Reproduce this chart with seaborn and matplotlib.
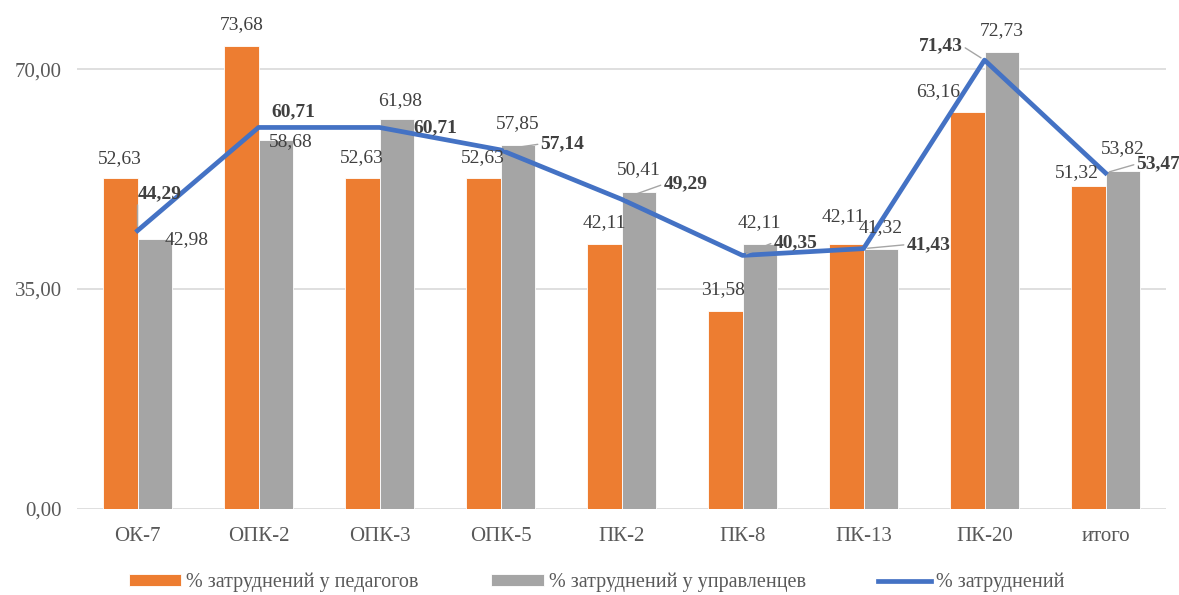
import numpy as np
import pandas as pd
import matplotlib
matplotlib.use('Agg')
import matplotlib.pyplot as plt
import seaborn as sb

# data
categories = ['ОК-7', 'ОПК-2', 'ОПК-3', 'ОПК-5', 'ПК-2', 'ПК-8', 'ПК-13', 'ПК-20', 'итого']
teachers = [52.63, 73.68, 52.63, 52.63, 42.11, 31.58, 42.11, 63.16, 51.32]
managers = [42.98, 58.68, 61.98, 57.85, 50.41, 42.11, 41.32, 72.73, 53.82]
total = [44.29, 60.71, 60.71, 57.14, 49.29, 40.35, 41.43, 71.43, 53.47]

name_teachers = '% затруднений у педагогов'
name_managers = '% затруднений у управленцев'
name_total = '% затруднений'

# label offsets in pixels (dx, dy) relative to bar top / line point
off_teachers = [(0, 20), (0, 21), (0, 21), (0, 21), (0, 22), (-2, 21), (-3, 28), (-29, 20), (-11, 14)]
off_managers = [(32, -1), (15, -1), (3, 19), (0, 22), (0, 23), (0, 22), (0, 22), (0, 21), (0, 22)]
off_total = [(22, 37), (35, 16), (56, 0), (62, 6), (64, 15), (53, 13), (65, 4), (-44, 14), (53, 9)]
lead_total = [True, False, False, True, True, True, True, True, True]

orange = '#ED7D31'
grey = '#A5A5A5'
blue = '#4472C4'
text_col = '#404040'

plt.rcParams['font.family'] = ['Liberation Serif', 'DejaVu Serif']

df = pd.DataFrame({'cat': categories * 2,
                   'val': teachers + managers,
                   'series': [name_teachers] * len(categories) + [name_managers] * len(categories)})

fig = plt.figure(figsize=(11.79, 5.95), dpi=100)
ax = fig.add_axes([77 / 1179, 1 - 509 / 595, 1089 / 1179, 499 / 595])

sb.barplot(data=df, x='cat', y='val', hue='series', palette=[orange, grey], saturation=1,
           width=0.57, linewidth=0.6, edgecolor='white', ax=ax, zorder=2)
x = np.arange(len(categories))
sb.lineplot(x=x, y=total, color=blue, linewidth=3.4, sort=False, ax=ax,
            label=name_total, zorder=3)

ax.set_xlim(-0.5, len(categories) - 0.5)
ax.set_ylim(0, 79.4)
ax.set_yticks([0, 35, 70])
ax.set_yticklabels(['0,00', '35,00', '70,00'])
ax.set_xticks(x)
ax.set_xticklabels(categories)
ax.tick_params(axis='both', length=0, labelsize=15, colors='#595959')
ax.tick_params(axis='y', pad=11)
ax.tick_params(axis='x', pad=13)
ax.grid(axis='y', color='#D9D9D9', linewidth=1.2, zorder=0)
ax.set_axisbelow(True)
for s in ax.spines.values():
    s.set_visible(False)
ax.set_xlabel('')
ax.set_ylabel('')

def fmt(v):
    return '{:.2f}'.format(v).replace('.', ',')

bw = 0.285
for i in range(len(categories)):
    ax.annotate(fmt(teachers[i]), (x[i] - bw / 2, teachers[i]), xytext=off_teachers[i],
                textcoords='offset pixels', ha='center', va='center', fontsize=14,
                color=text_col, zorder=5)
    ax.annotate(fmt(managers[i]), (x[i] + bw / 2, managers[i]), xytext=off_managers[i],
                textcoords='offset pixels', ha='center', va='center', fontsize=14,
                color=text_col, zorder=5)
    ap = None
    if lead_total[i]:
        rp = (1, 0.5) if off_total[i][0] < 0 else (0, 0.5)
        if i == 0:
            rp = (0, 0)
        ap = dict(arrowstyle='-', color=grey, lw=1, shrinkA=0, shrinkB=3, relpos=rp)
    ax.annotate(fmt(total[i]), (x[i], total[i]), xytext=off_total[i],
                textcoords='offset pixels', ha='center', va='center', fontsize=14,
                fontweight='bold', color=text_col, zorder=5, arrowprops=ap)

handles, labels = ax.get_legend_handles_labels()
ax.legend(handles, labels, loc='center', bbox_to_anchor=(0.477, -0.147), ncol=3,
          frameon=False, fontsize=14.5, handlelength=2.6, handleheight=0.55,
          columnspacing=3.6, handletextpad=0.25, labelcolor='#595959')

fig.savefig('out.png', dpi=100)
